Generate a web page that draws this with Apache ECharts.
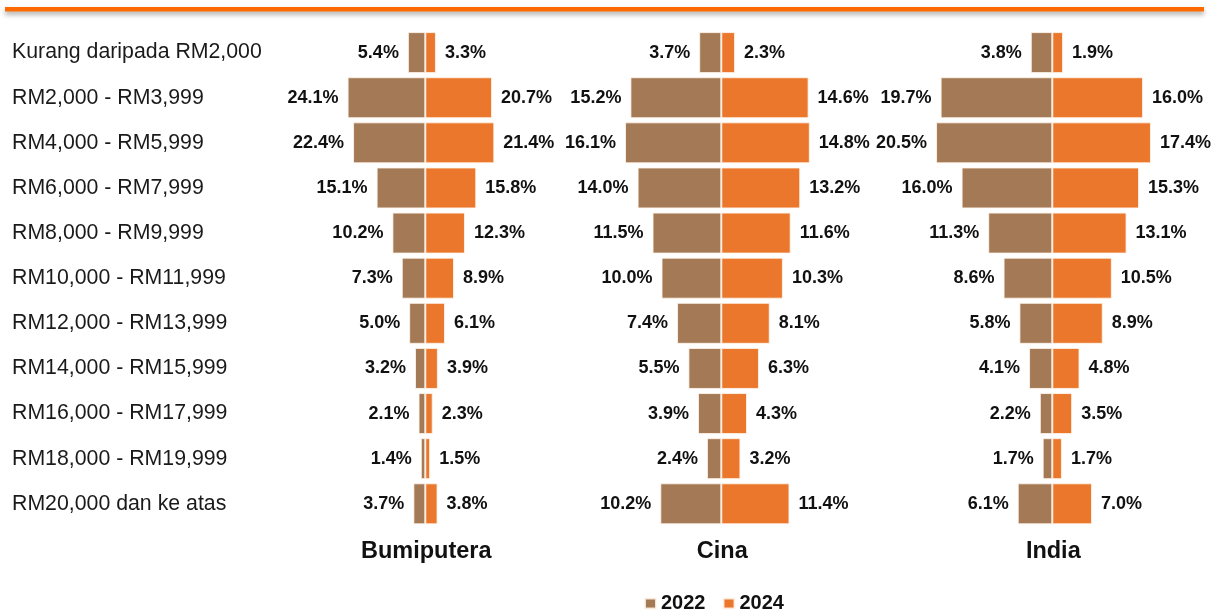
<!DOCTYPE html>
<html>
<head>
<meta charset="utf-8">
<script src="https://cdn.jsdelivr.net/npm/echarts@6/dist/echarts.min.js"></script>
<style>
html,body{margin:0;padding:0;background:#fff;}
#chart{width:1216px;height:611px;}
</style>
</head>
<body>
<div id="chart"></div>
<script>
const categories = [
  'Kurang daripada RM2,000',
  'RM2,000 - RM3,999',
  'RM4,000 - RM5,999',
  'RM6,000 - RM7,999',
  'RM8,000 - RM9,999',
  'RM10,000 - RM11,999',
  'RM12,000 - RM13,999',
  'RM14,000 - RM15,999',
  'RM16,000 - RM17,999',
  'RM18,000 - RM19,999',
  'RM20,000 dan ke atas'
];
const groups = ['Bumiputera', 'Cina', 'India'];
const seriesNames = ['2022', '2024'];
const bumiputera2022 = [5.4, 24.1, 22.4, 15.1, 10.2, 7.3, 5.0, 3.2, 2.1, 1.4, 3.7];
const bumiputera2024 = [3.3, 20.7, 21.4, 15.8, 12.3, 8.9, 6.1, 3.9, 2.3, 1.5, 3.8];
const cina2022 = [3.7, 15.2, 16.1, 14.0, 11.5, 10.0, 7.4, 5.5, 3.9, 2.4, 10.2];
const cina2024 = [2.3, 14.6, 14.8, 13.2, 11.6, 10.3, 8.1, 6.3, 4.3, 3.2, 11.4];
const india2022 = [3.8, 19.7, 20.5, 16.0, 11.3, 8.6, 5.8, 4.1, 2.2, 1.7, 6.1];
const india2024 = [1.9, 16.0, 17.4, 15.3, 13.1, 10.5, 8.9, 4.8, 3.5, 1.7, 7.0];

const data2022 = [bumiputera2022, cina2022, india2022];
const data2024 = [bumiputera2024, cina2024, india2024];

const BROWN = '#A47955';
const ORANGE = '#EA772C';
const FONT = '"Liberation Sans", Arial, sans-serif';

// layout per panel: center x, px per %, half-range
const panels = [
  {c: 425.3, s: 3.225, M: 25},
  {c: 721.3, s: 5.98, M: 17},
  {c: 1052.3, s: 5.67, M: 21}
];
const pitch = 45.12;
const gridTop = 52.6 - pitch / 2, gridHeight = pitch * 11;

const grids = [], xAxes = [], yAxes = [], series = [], graphics = [];
panels.forEach((p, i) => {
  const half = p.M * p.s;
  grids.push({left: p.c - half, width: 2 * half, top: gridTop, height: gridHeight, containLabel: false});
  xAxes.push({type: 'value', gridIndex: i, min: -p.M, max: p.M, show: false});
  yAxes.push({
    type: 'category', gridIndex: i, data: categories, inverse: true,
    axisLine: {show: false}, axisTick: {show: false}, splitLine: {show: false},
    axisLabel: i === 0 ? {
      show: true, align: 'left', margin: (p.c - half) - 12,
      fontFamily: FONT, fontSize: 21.3, color: '#1a1a1a'
    } : {show: false}
  });
  const lblBase = {show: true, fontFamily: FONT, fontSize: 18, fontWeight: 'bold', color: '#111', distance: 9,
    formatter: (v) => Math.abs(v.value).toFixed(1) + '%'};
  series.push({
    name: seriesNames[0], type: 'bar', xAxisIndex: i, yAxisIndex: i,
    data: data2022[i].map(v => -v), barWidth: 41, barGap: '-100%',
    itemStyle: {color: BROWN, borderColor: 'rgba(255,245,235,0.85)', borderWidth: 1},
    label: Object.assign({position: 'left'}, lblBase)
  });
  series.push({
    name: seriesNames[1], type: 'bar', xAxisIndex: i, yAxisIndex: i,
    data: data2024[i], barWidth: 41, barGap: '-100%',
    itemStyle: {color: ORANGE, borderColor: 'rgba(255,245,235,0.85)', borderWidth: 1},
    label: Object.assign({position: 'right'}, lblBase)
  });
  graphics.push({
    type: 'text', x: p.c + 1, y: 551.5,
    style: {text: groups[i], fontFamily: FONT, fontSize: 23.5, fontWeight: 'bold', fill: '#111',
      textAlign: 'center', textVerticalAlign: 'middle'}
  });
});

graphics.push({
  type: 'rect', shape: {x: 5, y: 7, width: 1199, height: 4.5},
  style: {fill: '#FF6A00', shadowBlur: 5, shadowColor: 'rgba(0,0,0,0.35)', shadowOffsetY: 3}
});

const chart = echarts.init(document.getElementById('chart'), null, {renderer: 'canvas'});
chart.setOption({
  animation: false,
  backgroundColor: '#ffffff',
  grid: grids,
  xAxis: xAxes,
  yAxis: yAxes,
  legend: {
    data: seriesNames, left: 639, top: 588.5, itemWidth: 11, itemHeight: 10, itemGap: 17,
    icon: 'rect', textStyle: {fontFamily: FONT, fontSize: 20, fontWeight: 'bold', color: '#111'}
  },
  graphic: graphics,
  series: series
});
</script>
</body>
</html>
